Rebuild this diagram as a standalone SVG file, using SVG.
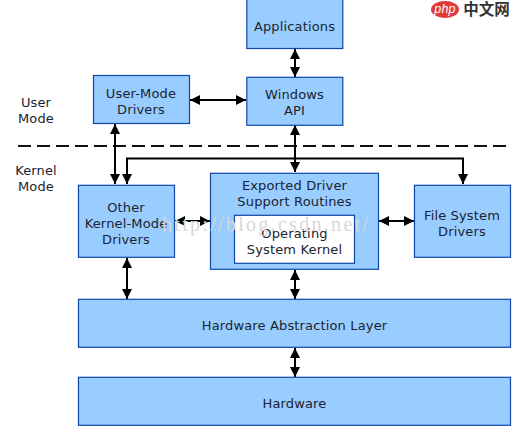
<svg xmlns="http://www.w3.org/2000/svg" width="512" height="426" viewBox="0 0 512 426">
<style>
.b{fill:#99ccff;stroke:#0f47a8;stroke-width:1.2}
.w{fill:#fff;stroke:#0f47a8;stroke-width:1.2}
text{font-family:"DejaVu Sans",Verdana,sans-serif;font-size:13px;letter-spacing:.15px;fill:#1a2430;text-anchor:middle}
.c{fill:none;stroke:#000;stroke-width:2}
.wm{font-family:"Liberation Serif",serif;font-size:20px;fill:#d8d8d8;text-anchor:start;letter-spacing:2.3px}
</style>
<defs>
<marker id="a" viewBox="0 0 10 10" refX="10" refY="5" markerWidth="10" markerHeight="10" markerUnits="userSpaceOnUse" orient="auto-start-reverse"><path d="M0 0L10 5L0 10Z" fill="#000"/></marker>
</defs>
<rect width="512" height="426" fill="#fff"/>
<g id="connectors">
<path d="M18 146H512" fill="none" stroke="#111" stroke-width="2" stroke-dasharray="13 6"/>
<path class="c" d="M295 49V77" marker-start="url(#a)" marker-end="url(#a)"/>
<path class="c" d="M190 100H246" marker-start="url(#a)" marker-end="url(#a)"/>
<path class="c" d="M115 124V184" marker-start="url(#a)" marker-end="url(#a)"/>
<path class="c" d="M295 125V172" marker-start="url(#a)" marker-end="url(#a)"/>
<path class="c" d="M127 184V158.500H463V184" marker-end="url(#a)" marker-start="url(#a)"/>
<path class="c" d="M175 221H210" marker-start="url(#a)" marker-end="url(#a)"/>
<path class="c" d="M379 221H414" marker-start="url(#a)" marker-end="url(#a)"/>
<path class="c" d="M127 258V299" marker-start="url(#a)" marker-end="url(#a)"/>
<path class="c" d="M295 270V299" marker-start="url(#a)" marker-end="url(#a)"/>
<path class="c" d="M295 348V377" marker-start="url(#a)" marker-end="url(#a)"/>
</g>
<g id="applications"><rect class="b" x="246.800" y="-1" width="96" height="49.500"/><text x="294.500" y="31">Applications</text></g>
<g id="windows-api"><rect class="b" x="246.800" y="77.300" width="96" height="48"/><text x="294.500" y="99">Windows</text><text x="294.500" y="115">API</text></g>
<g id="user-mode-drivers"><rect class="b" x="93.500" y="75.500" width="96" height="48"/><text x="141" y="98">User-Mode</text><text x="141" y="114">Drivers</text></g>
<g id="other-drivers"><rect class="b" x="78.500" y="185.300" width="96" height="72"/><text x="126" y="212">Other</text><text x="126" y="228">Kernel-Mode</text><text x="126" y="244">Drivers</text></g>
<g id="exported"><rect class="b" x="210.500" y="173.300" width="168" height="96"/><text x="294.500" y="190">Exported Driver</text><text x="294.500" y="206">Support Routines</text></g>
<g id="kernel"><rect class="w" x="234.500" y="215.300" width="120" height="48"/><text x="294.500" y="238">Operating</text><text x="294.500" y="254">System Kernel</text></g>
<g id="file-system-drivers"><rect class="b" x="414.500" y="185.300" width="96" height="72"/><text x="462" y="220">File System</text><text x="462" y="236">Drivers</text></g>
<g id="hal"><rect class="b" x="78.500" y="299.300" width="432" height="48"/><text x="294.500" y="330">Hardware Abstraction Layer</text></g>
<g id="hardware"><rect class="b" x="78.500" y="377.300" width="432" height="48"/><text x="294.500" y="408">Hardware</text></g>
<g id="labels"><text x="36" y="107">User</text><text x="36" y="123">Mode</text><text x="36" y="175">Kernel</text><text x="36" y="191">Mode</text></g>
<text class="wm" x="162" y="231">http://blog.csdn.net/</text>
<g id="logo"><ellipse cx="445" cy="9.500" rx="14" ry="8.500" fill="#e03a3a"/><text x="445" y="13" style="font-family:'Liberation Sans',sans-serif;font-size:12.5px;font-style:italic;fill:#fff">php</text><text x="486.500" y="15" style="font-family:'Noto Sans CJK SC',sans-serif;font-size:15.500px;letter-spacing:0;font-weight:700;fill:#333">中文网</text></g>
</svg>
